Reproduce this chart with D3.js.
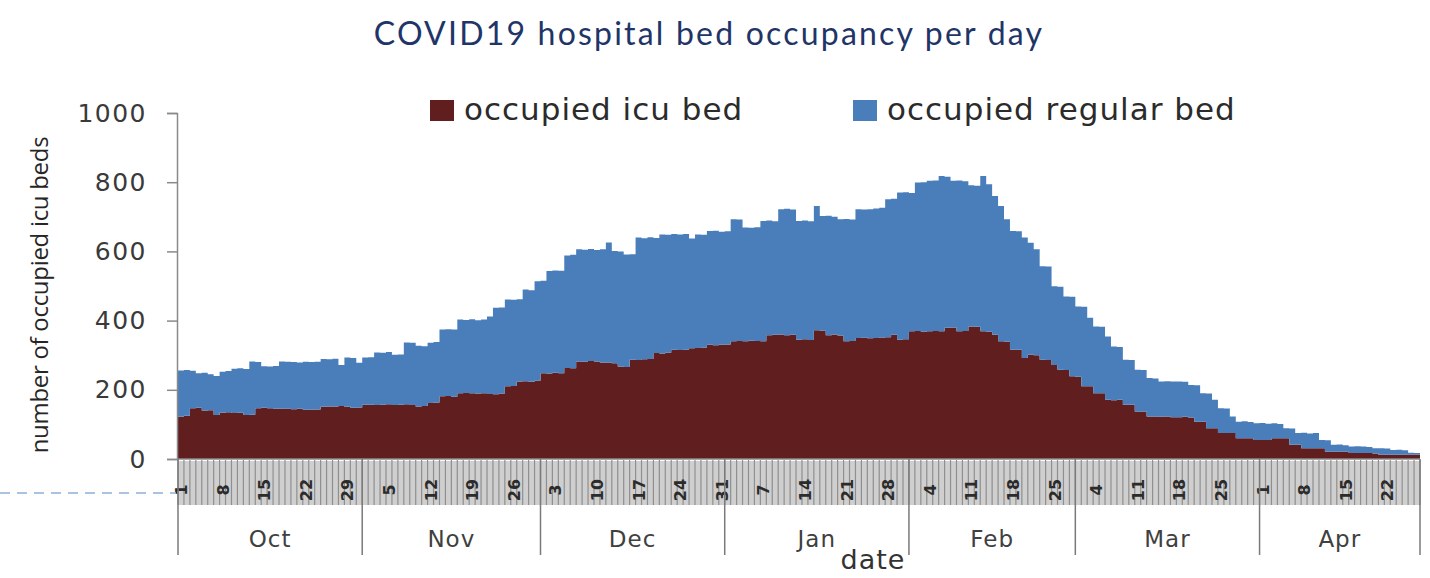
<!DOCTYPE html>
<html lang="en">
<head>
<meta charset="UTF-8">
<title>COVID19 hospital bed occupancy per day</title>
<script src="https://d3js.org/d3.v7.min.js"></script>
<style>
  body { margin: 0; background: #fff; }
  svg { display: block; }
</style>
</head>
<body>
<div id="chart"></div>
<script>
// month labels of the second axis level, and the first day shown
var months = ["Oct", "Nov", "Dec", "Jan", "Feb", "Mar", "Apr"];
var firstDay = new Date(2020, 9, 1);
var yTicks = [0, 200, 400, 600, 800, 1000];

// occupied icu beds per day, Oct 1 .. Apr 27
var icuBeds = [
  122,125,147,148,140,141,127,134,135,133,134,127,128,147,148,147,145,145,146,144,145,142,142,143,151,152,152,153,151,148,149,
  157,157,156,157,158,156,157,158,156,152,153,162,163,181,182,180,190,191,190,189,190,188,187,189,210,211,224,225,223,226,
  248,247,249,248,263,262,282,281,283,282,278,279,277,267,266,287,286,288,289,306,305,307,316,315,316,320,321,322,330,329,330,
  331,340,341,340,342,341,340,358,359,360,358,359,345,346,344,372,371,358,360,357,340,341,350,351,349,350,351,352,359,345,346,
  369,370,368,369,370,369,379,380,369,370,383,382,369,368,359,340,339,316,316,292,301,300,287,286,272,258,257,239,238,
  210,210,190,190,171,170,171,157,157,137,137,123,123,122,123,121,121,122,120,108,108,89,89,75,75,75,60,60,60,55,55,
  55,60,60,60,41,41,31,31,31,31,21,21,21,21,17,17,17,17,16,12,12,12,12,12,12,12
];

// occupied regular beds per day, Oct 1 .. Apr 27
var regularBeds = [
  134,132,108,100,109,104,113,118,119,128,128,133,154,133,120,120,124,137,135,136,134,139,138,138,138,136,138,119,142,144,129,
  136,137,152,150,151,145,145,179,180,175,173,174,175,193,193,194,213,211,214,212,213,224,250,249,251,249,238,265,265,288,
  267,296,296,296,325,328,324,324,324,322,328,347,324,333,325,305,354,350,352,333,344,341,334,334,334,317,328,326,329,331,327,
  327,353,351,329,326,329,348,331,328,362,365,362,343,343,343,359,331,345,340,336,354,351,372,370,373,374,375,399,393,425,425,
  400,429,432,435,435,449,437,424,436,433,408,408,449,426,401,391,354,343,342,348,324,306,270,270,227,240,213,230,203,
  230,198,193,192,183,155,153,130,129,121,120,111,110,102,102,103,103,101,94,105,82,100,82,72,71,48,48,49,47,48,49,
  47,43,41,29,47,34,45,43,44,24,33,20,21,19,19,20,19,18,15,19,18,14,15,13,6,5
];

var W = 1430, H = 578;
var plotLeft = 178, plotRight = 1420, plotTop = 113, plotBase = 459;

var svg = d3.select("#chart").append("svg")
  .attr("width", W)
  .attr("height", H);

var days = d3.timeDay.range(firstDay, d3.timeDay.offset(firstDay, icuBeds.length));
var rows = days.map(function (d, i) {
  return { day: i, date: d, icu: icuBeds[i], regular: regularBeds[i] };
});

var x = d3.scaleBand()
  .domain(d3.range(rows.length))
  .range([plotLeft, plotRight])
  .padding(0);

var y = d3.scaleLinear()
  .domain([0, 1000])
  .range([plotBase, plotTop]);

var colors = { icu: "#611e1e", regular: "#4a7ebb" };
var stack = d3.stack().keys(["icu", "regular"]);
var series = stack(rows);

// title
svg.append("text")
  .attr("x", 709)
  .attr("y", 45)
  .attr("text-anchor", "middle")
  .style("font", "32px Lato, sans-serif")
  .style("letter-spacing", "2.2px")
  .style("fill", "#1f3568")
  .text("COVID19 hospital bed occupancy per day");

// stacked daily columns without gaps, drawn as one stepped shape per series
var area = d3.area()
  .curve(d3.curveStepAfter)
  .x(function (p) { return p.x; })
  .y0(function (p) { return y(p.lo); })
  .y1(function (p) { return y(p.hi); });

svg.append("g")
  .selectAll("path")
  .data(series)
  .enter().append("path")
  .attr("fill", function (s) { return colors[s.key]; })
  .attr("d", function (s) {
    var pts = s.map(function (d) { return { x: x(d.data.day), lo: d[0], hi: d[1] }; });
    var last = s[s.length - 1];
    pts.push({ x: x(last.data.day) + x.bandwidth(), lo: last[0], hi: last[1] });
    return area(pts);
  });

// y axis
var yAxis = svg.append("g")
  .attr("transform", "translate(" + (plotLeft - 1) + ",0)")
  .call(d3.axisLeft(y).tickValues(yTicks).tickFormat(d3.format("d")).tickSize(10).tickPadding(20));
yAxis.select(".domain").attr("stroke", "#8a8a8a").attr("stroke-width", 1.5);
yAxis.selectAll(".tick line").attr("stroke", "#8a8a8a").attr("stroke-width", 1.5);
yAxis.selectAll(".tick text")
  .style("font", "25px 'DejaVu Sans', sans-serif")
  .style("letter-spacing", "1.5px")
  .attr("fill", "#3a3a3a");

svg.append("text")
  .attr("transform", "translate(48,295) rotate(-90)")
  .attr("text-anchor", "middle")
  .style("font", "24px 'Open Sans', sans-serif")
  .style("letter-spacing", "-0.3px")
  .attr("fill", "#262626")
  .text("number of occupied icu beds");

// day level of the category axis
var dayBand = svg.append("g");
dayBand.append("rect")
  .attr("x", plotLeft)
  .attr("y", plotBase + 2)
  .attr("width", plotRight - plotLeft)
  .attr("height", 44)
  .attr("fill", "#cfcfcf");
dayBand.selectAll("line")
  .data(d3.range(rows.length + 1))
  .enter().append("line")
  .attr("x1", function (i) { return plotLeft + i * x.step(); })
  .attr("x2", function (i) { return plotLeft + i * x.step(); })
  .attr("y1", plotBase + 1)
  .attr("y2", plotBase + 46)
  .attr("stroke", "#8f8f8f")
  .attr("stroke-width", 1.2);

dayBand.selectAll("text")
  .data(rows.filter(function (r) { return r.day % 7 === 0; }))
  .enter().append("text")
  .attr("transform", function (r) {
    return "translate(" + (x(r.day) + x.bandwidth() / 2 + 6) + "," + (plotBase + 31) + ") rotate(-90)";
  })
  .attr("text-anchor", "middle")
  .style("font", "bold 16px 'DejaVu Sans', sans-serif")
  .attr("fill", "#2b2b2b")
  .text(function (r) { return r.date.getDate(); });

svg.append("line")
  .attr("x1", plotLeft - 1)
  .attr("x2", plotRight)
  .attr("y1", plotBase)
  .attr("y2", plotBase)
  .attr("stroke", "#8a8a8a")
  .attr("stroke-width", 1.5);

// month level
var monthStarts = rows.filter(function (r) { return r.date.getDate() === 1; }).map(function (r) { return r.day; });
var monthEdges = monthStarts.map(function (d) { return x(d); }).concat([plotRight]);

svg.append("g")
  .selectAll("line")
  .data(monthEdges)
  .enter().append("line")
  .attr("x1", function (d) { return d; })
  .attr("x2", function (d) { return d; })
  .attr("y1", plotBase)
  .attr("y2", 555)
  .attr("stroke", "#7a7a7a")
  .attr("stroke-width", 1.5);

svg.append("g")
  .selectAll("text")
  .data(months)
  .enter().append("text")
  .attr("x", function (m, i) { return (monthEdges[i] + monthEdges[i + 1]) / 2; })
  .attr("y", 547)
  .attr("text-anchor", "middle")
  .style("font", "23px 'DejaVu Sans', sans-serif")
  .style("letter-spacing", "1px")
  .attr("fill", "#404040")
  .text(function (m) { return m; });

svg.append("text")
  .attr("x", 873)
  .attr("y", 569)
  .attr("text-anchor", "middle")
  .style("font", "27px 'DejaVu Sans', sans-serif")
  .style("letter-spacing", "1px")
  .attr("fill", "#333")
  .text("date");

// legend
var legendItems = [
  { key: "icu", label: "occupied icu bed", x: 430 },
  { key: "regular", label: "occupied regular bed", x: 853 }
];
var legend = svg.append("g")
  .selectAll("g")
  .data(legendItems)
  .enter().append("g")
  .attr("transform", function (d) { return "translate(" + d.x + ",0)"; });
legend.append("rect")
  .attr("y", 100)
  .attr("width", 24)
  .attr("height", 21)
  .attr("fill", function (d) { return colors[d.key]; });
legend.append("text")
  .attr("x", 34)
  .attr("y", 120)
  .style("font", "31px 'DejaVu Sans', sans-serif")
  .style("letter-spacing", "1px")
  .attr("fill", "#2b2b2b")
  .text(function (d) { return d.label; });

// dashed guide at the left edge
svg.append("line")
  .attr("x1", 0)
  .attr("x2", plotLeft - 2)
  .attr("y1", 493)
  .attr("y2", 493)
  .attr("stroke", "#8fb0d9")
  .attr("stroke-width", 1.5)
  .attr("stroke-dasharray", "10,7");
</script>
</body>
</html>
